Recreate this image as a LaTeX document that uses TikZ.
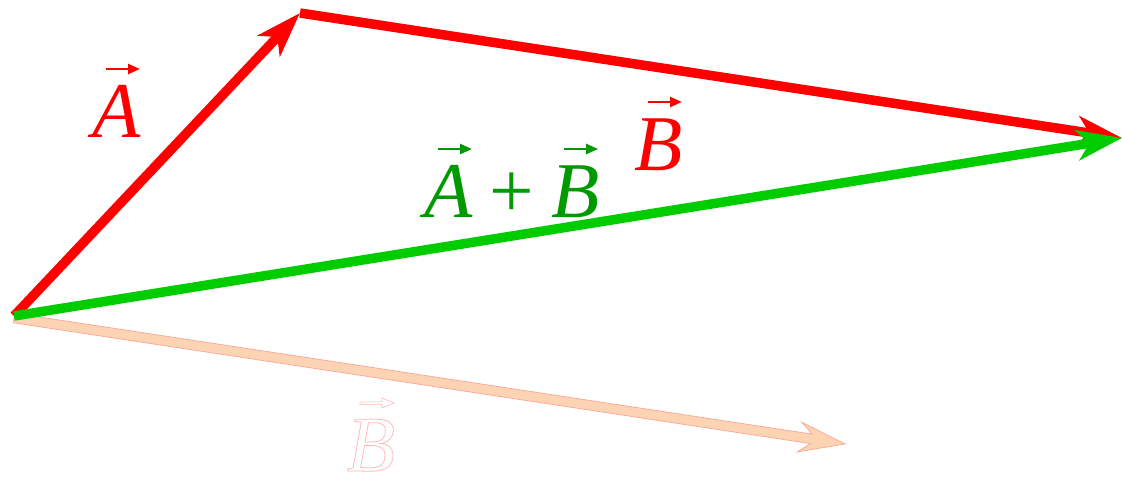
\documentclass[tikz,border=0pt]{standalone}
\usepackage{fontspec}
\setmainfont{Liberation Serif}
\usepackage{graphicx}
\usetikzlibrary{arrows.meta}
\definecolor{vred}{RGB}{255,0,0}
\definecolor{vgreen}{RGB}{0,204,0}
\definecolor{lgreen}{RGB}{0,153,0}
\definecolor{peach}{RGB}{252,212,180}
\definecolor{peachline}{RGB}{250,165,150}
\definecolor{ghost}{RGB}{255,185,185}
\newcommand{\vecarrow}{\tikz[baseline=0pt]\draw[line width=2.4pt,-{Triangle[length=12pt,width=10pt]}] (0pt,0pt) -- (34pt,0pt);}
\newcommand{\ghostarrow}{\tikz[baseline=0pt]\draw[line width=0.6pt,line join=miter] (0pt,-1.2pt) -- (22pt,-1.2pt) -- (22pt,-5pt) -- (34pt,0pt) -- (22pt,5pt) -- (22pt,1.2pt) -- (0pt,1.2pt) -- cycle;}
\newcommand{\vv}[2][\vecarrow]{\setbox0\hbox{\textit{#2}}\rlap{\hbox to \wd0{\hss\kern12pt\raisebox{68pt}{#1}\hss}}\box0}
\begin{document}
\begin{tikzpicture}[x=1pt,y=-1pt,
  vec/.style={line width=9.5pt,-{Stealth[length=45pt,width=30pt,inset=12pt]}},
  lbl/.style={anchor=base,inner sep=0pt,font=\fontsize{79}{80}\selectfont}]
\useasboundingbox (0,0) rectangle (1122,477);
\coordinate (O) at (14,316);
\coordinate (P) at (300,13);
\coordinate (Q) at (1122,138);
\coordinate (F) at (845,444);
% faded copy of B
\filldraw[fill=peach,draw=peachline,line width=0.7pt,line join=miter]
  (14.73,313.25) -- (812.12,434.12) -- (801.80,422.22) -- (F)
  -- (797.26,451.88) -- (810.67,443.61) -- (13.27,322.75) -- cycle;
% A and B
\draw[vec,vred] (O) -- (P);
\draw[vec,vred] (P) -- (Q);
% A + B
\draw[vec,vgreen] (O) -- (Q);
% labels
\node[lbl,text=vred] (la) at (117,137) {\vv{A}};
\node[lbl,text=vred] (lb) at (659,170) {\vv{B}};
\node[lbl,text=lgreen] (lab) at (512,217) {\vv{A}\hspace{0.21em}+\hspace{0.21em}\vv{B}};
\node[lbl,text=ghost] (lbf) at (371,471) {\special{pdf:literal direct 1 Tr 0.8 w}\vv[\ghostarrow]{B}\special{pdf:literal direct 0 Tr}};
\end{tikzpicture}
\end{document}
